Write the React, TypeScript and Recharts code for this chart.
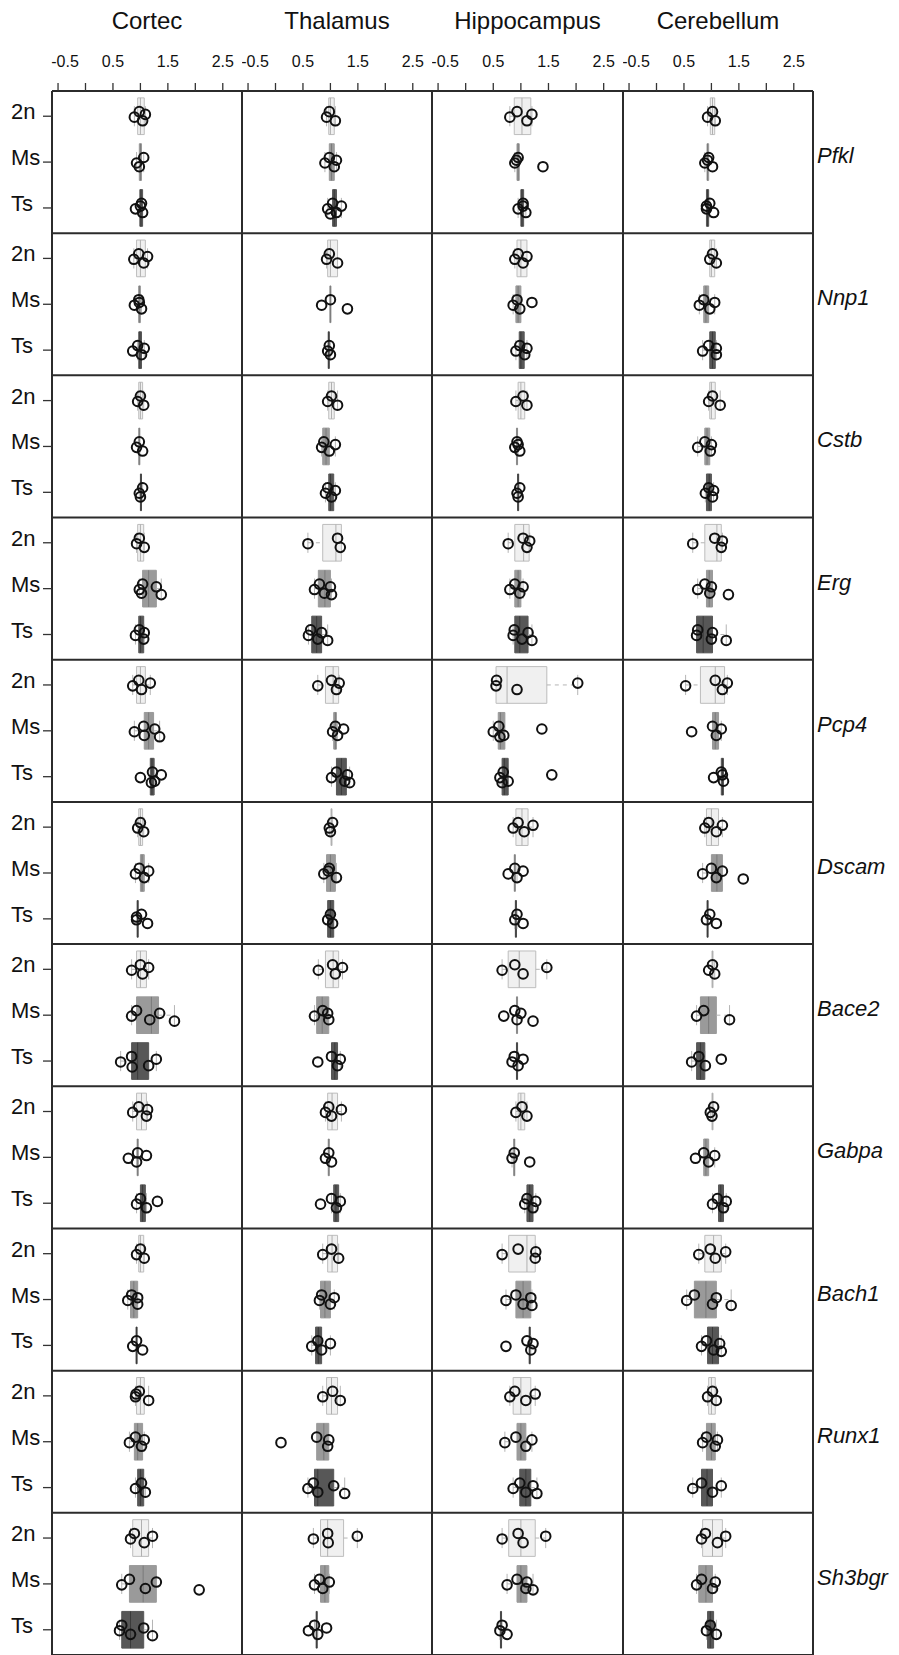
import React from 'react';
import { ScatterChart, Scatter, XAxis, YAxis, ReferenceArea, ReferenceLine } from 'recharts';

const REGIONS = ['Cortec', 'Thalamus', 'Hippocampus', 'Cerebellum'];
const GENES = ['Pfkl', 'Nnp1', 'Cstb', 'Erg', 'Pcp4', 'Dscam', 'Bace2', 'Gabpa', 'Bach1', 'Runx1', 'Sh3bgr'];
const GROUPS = ['2n', 'Ms', 'Ts'];
const X_TICKS = [-0.5, 0, 0.5, 1, 1.5, 2, 2.5];

type Group = { q1: number; med: number; q3: number; pts: number[] };
const g = (q1: number, med: number, q3: number, pts: number[]): Group => ({ q1, med, q3, pts });

// each gene: [Cortec, Thalamus, Hippocampus, Cerebellum], each region: [2n, Ms, Ts]
const PFKL = [
  [g(0.95, 1.0, 1.07, [0.89, 0.98, 1.04, 1.09]), g(0.98, 1.0, 1.02, [0.93, 1.06, 0.98]), g(0.99, 1.01, 1.04, [0.91, 1.02, 1.04, 1.0])],
  [g(0.97, 1.0, 1.07, [0.93, 0.98, 1.09]), g(0.98, 1.02, 1.07, [0.9, 0.98, 1.07, 1.11]), g(1.04, 1.07, 1.11, [0.95, 1.04, 1.11, 1.2, 1.0])],
  [g(0.88, 1.02, 1.18, [0.8, 0.93, 1.11, 1.2]), g(0.93, 0.95, 0.97, [0.89, 0.95, 1.4, 0.92]), g(1.0, 1.02, 1.05, [0.95, 1.04, 1.09, 1.04])],
  [g(0.98, 1.02, 1.06, [0.93, 1.02, 1.07]), g(0.92, 0.93, 0.95, [0.88, 0.95, 1.02, 0.93]), g(0.91, 0.93, 0.95, [0.91, 0.97, 1.04, 0.91])],
];
const NNP1 = [
  [g(0.93, 1.0, 1.09, [0.88, 0.97, 1.06, 1.13]), g(0.97, 0.98, 1.0, [0.89, 0.97, 1.02, 0.98]), g(0.97, 0.99, 1.02, [0.86, 0.95, 1.02, 1.07])],
  [g(0.95, 1.0, 1.13, [0.93, 0.98, 1.13]), g(0.99, 1.0, 1.01, [0.84, 1.0, 1.31]), g(0.96, 0.97, 0.98, [0.95, 0.98, 1.0])],
  [g(0.93, 1.0, 1.11, [0.89, 0.95, 1.04, 1.11]), g(0.91, 0.95, 1.0, [0.86, 0.93, 0.98, 1.2]), g(0.97, 1.0, 1.06, [0.91, 0.98, 1.07, 1.11])],
  [g(0.97, 1.0, 1.06, [0.97, 1.02, 1.09]), g(0.86, 0.9, 0.95, [0.78, 0.86, 0.97, 1.06]), g(0.97, 1.02, 1.07, [0.84, 0.95, 1.09, 1.09])],
];
const CSTB = [
  [g(0.97, 1.0, 1.04, [0.95, 1.0, 1.06]), g(0.97, 0.98, 0.99, [0.93, 0.98, 1.04]), g(1.0, 1.01, 1.02, [0.98, 1.04, 1.0])],
  [g(0.97, 1.02, 1.07, [0.95, 1.02, 1.13]), g(0.86, 0.92, 0.98, [0.84, 0.88, 0.98, 1.09]), g(0.97, 1.0, 1.06, [0.91, 0.95, 1.02, 1.09])],
  [g(0.95, 1.0, 1.07, [0.91, 1.04, 1.11]), g(0.92, 0.93, 0.94, [0.89, 0.93, 0.98, 0.95]), g(0.94, 0.95, 0.96, [0.93, 0.98, 0.95])],
  [g(0.97, 1.0, 1.07, [0.95, 1.02, 1.16]), g(0.88, 0.92, 0.97, [0.75, 0.88, 0.98, 1.0]), g(0.91, 0.96, 1.0, [0.89, 0.95, 1.02, 1.04])],
];
const ERG = [
  [g(0.95, 1.0, 1.06, [0.93, 0.98, 1.07]), g(1.04, 1.15, 1.29, [0.98, 1.04, 1.02, 1.29, 1.38]), g(0.97, 1.0, 1.06, [0.91, 0.98, 1.06, 1.07])],
  [g(0.86, 1.1, 1.2, [0.59, 1.13, 1.18]), g(0.78, 0.9, 1.0, [0.71, 0.8, 0.89, 1.0, 1.02]), g(0.66, 0.75, 0.84, [0.6, 0.64, 0.77, 0.84, 0.95])],
  [g(0.89, 1.05, 1.15, [0.77, 1.04, 1.11, 1.16]), g(0.89, 0.95, 1.0, [0.8, 0.89, 0.98, 1.04]), g(0.89, 0.98, 1.13, [0.86, 0.88, 1.02, 1.13, 1.2])],
  [g(0.88, 1.1, 1.18, [0.66, 1.06, 1.18, 1.2]), g(0.91, 0.96, 1.02, [0.75, 0.88, 0.97, 1.0, 1.31]), g(0.73, 0.85, 1.02, [0.73, 0.75, 1.0, 1.02, 1.27])],
];
const PCP4 = [
  [g(0.93, 1.0, 1.09, [0.86, 0.97, 1.02, 1.18]), g(1.07, 1.15, 1.24, [0.89, 1.06, 1.07, 1.26, 1.35]), g(1.18, 1.21, 1.25, [1.0, 1.22, 1.26, 1.38, 1.2])],
  [g(0.91, 1.05, 1.15, [0.77, 1.02, 1.11, 1.16]), g(1.06, 1.09, 1.11, [1.04, 1.09, 1.13, 1.24]), g(1.11, 1.2, 1.29, [1.02, 1.11, 1.26, 1.31, 1.35])],
  [g(0.55, 0.75, 1.47, [0.55, 0.56, 0.93, 2.03]), g(0.59, 0.63, 0.71, [0.5, 0.6, 0.69, 1.38, 0.62]), g(0.66, 0.7, 0.77, [0.62, 0.68, 0.77, 1.56, 0.66])],
  [g(0.8, 1.07, 1.24, [0.53, 1.07, 1.2, 1.29]), g(1.02, 1.07, 1.13, [0.64, 1.02, 1.09, 1.18]), g(1.18, 1.2, 1.22, [1.04, 1.18, 1.22, 1.2])],
];
const DSCAM = [
  [g(0.97, 1.0, 1.04, [0.95, 1.0, 1.06]), g(1.0, 1.03, 1.07, [0.91, 0.98, 1.07, 1.15]), g(0.94, 0.95, 0.96, [0.93, 1.02, 1.13, 0.93])],
  [g(1.01, 1.02, 1.03, [0.98, 1.04, 1.0]), g(0.93, 1.0, 1.09, [0.88, 0.98, 1.11, 0.96]), g(0.95, 1.0, 1.06, [0.95, 1.0, 1.04])],
  [g(0.91, 1.02, 1.13, [0.86, 0.95, 1.06, 1.22]), g(0.88, 0.89, 0.9, [0.77, 0.89, 0.93, 1.04]), g(0.9, 0.91, 0.92, [0.89, 0.93, 1.04])],
  [g(0.91, 1.0, 1.13, [0.88, 0.95, 1.09, 1.2]), g(1.0, 1.1, 1.2, [0.84, 1.0, 1.09, 1.2, 1.58]), g(0.92, 0.93, 0.94, [0.91, 0.97, 1.09])],
];
const BACE2 = [
  [g(0.93, 1.0, 1.11, [0.84, 1.0, 1.04, 1.15]), g(0.93, 1.2, 1.33, [0.84, 0.93, 1.17, 1.35, 1.62]), g(0.84, 0.95, 1.15, [0.64, 0.84, 1.15, 1.29, 0.85])],
  [g(0.91, 1.05, 1.15, [0.78, 1.04, 1.09, 1.22]), g(0.75, 0.85, 0.97, [0.71, 0.86, 0.97, 0.95]), g(1.02, 1.08, 1.13, [0.77, 1.02, 1.13, 1.18])],
  [g(0.77, 0.97, 1.27, [0.66, 0.89, 1.04, 1.47]), g(0.92, 0.93, 0.94, [0.69, 0.89, 0.93, 1.0, 1.22]), g(0.92, 0.93, 0.94, [0.84, 0.88, 0.95, 1.04])],
  [g(1.01, 1.02, 1.03, [0.95, 1.02, 1.06]), g(0.8, 0.95, 1.09, [0.73, 0.86, 1.33]), g(0.73, 0.8, 0.88, [0.64, 0.77, 0.89, 1.18])],
];
const GABPA = [
  [g(0.93, 1.02, 1.11, [0.86, 0.97, 1.11, 1.13]), g(0.94, 0.95, 0.96, [0.78, 0.95, 0.93, 1.11]), g(1.0, 1.04, 1.09, [0.93, 1.0, 1.11, 1.31])],
  [g(0.95, 1.03, 1.13, [0.91, 0.97, 1.02, 1.2]), g(0.96, 0.97, 0.98, [0.91, 0.97, 1.02]), g(1.06, 1.1, 1.15, [0.82, 1.02, 1.11, 1.18])],
  [g(0.95, 1.0, 1.07, [0.91, 1.02, 1.11]), g(0.87, 0.88, 0.89, [0.84, 0.88, 1.16]), g(1.11, 1.16, 1.22, [1.07, 1.11, 1.22, 1.27])],
  [g(1.01, 1.02, 1.03, [0.98, 1.04, 1.01]), g(0.86, 0.9, 0.95, [0.71, 0.86, 0.95, 1.06]), g(1.13, 1.17, 1.22, [1.02, 1.11, 1.22, 1.27])],
];
const BACH1 = [
  [g(0.97, 1.0, 1.06, [0.93, 1.0, 1.07]), g(0.82, 0.88, 0.95, [0.77, 0.84, 0.95, 0.95]), g(0.92, 0.93, 0.94, [0.86, 0.93, 1.04])],
  [g(0.95, 1.03, 1.13, [0.86, 1.02, 1.15]), g(0.82, 0.9, 1.0, [0.8, 0.84, 1.0, 1.07]), g(0.73, 0.78, 0.84, [0.66, 0.77, 0.84, 1.0])],
  [g(0.78, 1.11, 1.26, [0.66, 0.95, 1.26, 1.27]), g(0.91, 1.04, 1.18, [0.73, 0.91, 1.04, 1.18, 1.2]), g(1.15, 1.16, 1.17, [0.73, 1.11, 1.18, 1.22])],
  [g(0.88, 1.04, 1.18, [0.77, 0.98, 1.07, 1.26]), g(0.69, 0.9, 1.09, [0.55, 0.69, 1.02, 1.09, 1.36]), g(0.93, 1.02, 1.13, [0.82, 0.91, 1.04, 1.15, 1.18])],
];
const RUNX1 = [
  [g(0.93, 1.0, 1.07, [0.91, 0.98, 1.15, 0.92]), g(0.89, 0.95, 1.04, [0.8, 0.91, 1.02, 1.07]), g(0.95, 1.0, 1.06, [0.91, 1.02, 1.09])],
  [g(0.93, 1.02, 1.13, [0.86, 1.04, 1.18]), g(0.75, 0.88, 0.97, [0.1, 0.75, 0.95, 0.97]), g(0.71, 0.77, 1.06, [0.59, 0.69, 0.77, 1.06, 1.26])],
  [g(0.86, 1.0, 1.18, [0.8, 0.89, 1.09, 1.26]), g(0.93, 1.0, 1.09, [0.71, 0.91, 1.09, 1.2]), g(0.98, 1.09, 1.18, [0.86, 0.98, 1.09, 1.22, 1.29])],
  [g(0.95, 1.0, 1.07, [0.93, 1.02, 1.09]), g(0.91, 1.0, 1.07, [0.84, 0.91, 1.07, 1.11]), g(0.82, 0.92, 1.02, [0.66, 0.82, 1.02, 1.18])],
];
const SH3BGR = [
  [g(0.86, 1.02, 1.15, [0.82, 0.89, 1.07, 1.22]), g(0.8, 1.05, 1.29, [0.66, 0.8, 1.09, 1.29, 2.07]), g(0.66, 0.82, 1.06, [0.62, 0.66, 0.82, 1.06, 1.22])],
  [g(0.82, 0.95, 1.24, [0.69, 0.95, 0.96, 1.49]), g(0.82, 0.9, 0.97, [0.71, 0.8, 0.86, 0.98]), g(0.74, 0.75, 0.76, [0.6, 0.71, 0.77, 0.93])],
  [g(0.78, 1.0, 1.26, [0.66, 0.95, 1.04, 1.45]), g(0.93, 1.0, 1.11, [0.75, 0.93, 1.09, 1.11, 1.22]), g(0.63, 0.64, 0.65, [0.62, 0.66, 0.75])],
  [g(0.84, 1.02, 1.2, [0.82, 0.89, 1.11, 1.26]), g(0.77, 0.9, 1.02, [0.73, 0.82, 1.02, 1.07]), g(0.93, 0.98, 1.04, [0.91, 0.98, 1.09])],
];

const DATA = [PFKL, NNP1, CSTB, ERG, PCP4, DSCAM, BACE2, GABPA, BACH1, RUNX1, SH3BGR];

// layout
const X_MIN = -0.61;
const X_MAX = 2.85;
const ROW = 3.1;
const Y_MIN = -0.05;
const Y_MAX = GENES.length * ROW - 0.05;
const COL_LEFT = [52, 242, 432, 623];
const COL_W = [190, 190, 191, 190];
const PLOT_TOP = 91;
const AXIS_H = 40;
const JITTER = [0.02, -0.1, 0.1, -0.04, 0.13, -0.13];

const BOX_FILL = ['#f0f0f0', '#9a9a9a', '#575757'];
const BOX_STROKE = ['#bdbdbd', '#9a9a9a', '#575757'];
const MED_STROKE = ['#b0b0b0', '#7a7a7a', '#3a3a3a'];
const FONT = '"Liberation Sans", Arial, sans-serif';

const groupY = (gi: number, k: number) => gi * ROW + 0.5 + k;

function whiskers(grp: Group) {
  const iqr = grp.q3 - grp.q1;
  const inside = grp.pts.filter(v => v >= grp.q1 - 1.5 * iqr && v <= grp.q3 + 1.5 * iqr);
  const lo = Math.min(grp.q1, ...inside);
  const hi = Math.max(grp.q3, ...inside);
  return [lo, hi];
}

const TopTick = (props: any) => {
  const { x, y, payload } = props;
  const v = payload.value;
  if (Number.isInteger(v)) return null;
  return (
    <text x={x + (v < 0 ? 7 : 0)} y={y - 14} textAnchor="middle" fontSize={16} fill="#111" fontFamily={FONT}>
      {v < 0 ? '-0.5' : String(v)}
    </text>
  );
};

const GROUP_TICKS = GENES.flatMap((_, gi) => GROUPS.map((__, k) => groupY(gi, k)));
const GENE_TICKS = GENES.map((_, gi) => groupY(gi, 1));

const GroupTick = (props: any) => {
  const { y, payload } = props;
  const idx = GROUP_TICKS.findIndex(t => Math.abs(t - payload.value) < 1e-6);
  return (
    <text x={11} y={y + 3} fontSize={22} fill="#111" fontFamily={FONT}>
      {GROUPS[idx % 3]}
    </text>
  );
};

const GeneTick = (props: any) => {
  const { x, y, payload } = props;
  const idx = GENE_TICKS.findIndex(t => Math.abs(t - payload.value) < 1e-6);
  return (
    <text x={x} y={y + 1} fontSize={22} fontStyle="italic" fill="#111" fontFamily={FONT}>
      {GENES[idx]}
    </text>
  );
};

function RegionColumn({ col }: { col: number }) {
  const first = col === 0;
  const last = col === REGIONS.length - 1;
  const leftW = first ? 52 : 0;
  const rightW = last ? 899 - COL_LEFT[col] - COL_W[col] : 0;
  const width = leftW + COL_W[col] + rightW;

  const points: { x: number; y: number }[] = [];
  const boxes: React.ReactNode[] = [];
  DATA.forEach((gene, gi) => {
    gene[col].forEach((grp, k) => {
      const c = groupY(gi, k);
      grp.pts.forEach((v, j) => points.push({ x: v, y: c + JITTER[j % JITTER.length] }));
      const [lo, hi] = whiskers(grp);
      const key = `${gi}-${k}`;
      if (lo < grp.q1) {
        boxes.push(<ReferenceLine key={`wl${key}`} segment={[{ x: lo, y: c }, { x: grp.q1, y: c }]} stroke="#b5b5b5" strokeDasharray="4 4" />);
        boxes.push(<ReferenceLine key={`cl${key}`} segment={[{ x: lo, y: c - 0.22 }, { x: lo, y: c + 0.22 }]} stroke="#b5b5b5" />);
      }
      if (hi > grp.q3) {
        boxes.push(<ReferenceLine key={`wh${key}`} segment={[{ x: grp.q3, y: c }, { x: hi, y: c }]} stroke="#b5b5b5" strokeDasharray="4 4" />);
        boxes.push(<ReferenceLine key={`ch${key}`} segment={[{ x: hi, y: c - 0.22 }, { x: hi, y: c + 0.22 }]} stroke="#b5b5b5" />);
      }
      boxes.push(
        <ReferenceArea key={`b${key}`} x1={grp.q1} x2={grp.q3} y1={c - 0.4} y2={c + 0.4}
          fill={BOX_FILL[k]} fillOpacity={1} stroke={BOX_STROKE[k]} strokeWidth={1} />
      );
      boxes.push(<ReferenceLine key={`m${key}`} segment={[{ x: grp.med, y: c - 0.4 }, { x: grp.med, y: c + 0.4 }]} stroke={MED_STROKE[k]} strokeWidth={1} />);
    });
  });

  return (
    <div style={{ position: 'absolute', left: COL_LEFT[col] - leftW, top: 0 }}>
      <ScatterChart width={width} height={1655} margin={{ top: PLOT_TOP - AXIS_H, right: 0, bottom: 0, left: 0 }}>
        <XAxis type="number" dataKey="x" orientation="top" domain={[X_MIN, X_MAX]} ticks={X_TICKS}
          allowDataOverflow interval={0} height={AXIS_H} axisLine={false} tickSize={8}
          tickLine={{ stroke: '#333', strokeWidth: 1.3 }} tick={<TopTick />} />
        <YAxis type="number" dataKey="y" domain={[Y_MIN, Y_MAX]} reversed allowDataOverflow
          hide={!first} width={leftW} ticks={GROUP_TICKS} interval={0} axisLine={false} tickSize={9}
          tickLine={{ stroke: '#333', strokeWidth: 1.3 }} tick={<GroupTick />} />
        {last && (
          <YAxis yAxisId="genes" orientation="right" type="number" domain={[Y_MIN, Y_MAX]} reversed
            allowDataOverflow width={rightW} ticks={GENE_TICKS} interval={0} axisLine={false}
            tickLine={false} tickSize={0} tickMargin={4} tick={<GeneTick />} />
        )}
        {boxes}
        {GENES.map((_, gi) => (
          <ReferenceLine key={`row${gi}`} y={gi * ROW + Y_MIN} stroke="#2b2b2b" strokeWidth={2} />
        ))}
        <ReferenceLine y={Y_MAX} stroke="#2b2b2b" strokeWidth={2} />
        <ReferenceLine x={X_MIN} stroke="#2b2b2b" strokeWidth={2} />
        <ReferenceLine x={X_MAX} stroke="#2b2b2b" strokeWidth={2} />
        <Scatter data={points} isAnimationActive={false}
          shape={(p: any) => <circle cx={p.cx} cy={p.cy} r={4.8} fill="none" stroke="#111" strokeWidth={2} />} />
      </ScatterChart>
    </div>
  );
}

export default function App() {
  return (
    <div style={{ position: 'absolute', left: 0, top: 0, width: 899, height: 1655, background: '#fff', overflow: 'hidden', fontFamily: FONT }}>
      {REGIONS.map((r, i) => (
        <div key={r} style={{ position: 'absolute', left: COL_LEFT[i], top: 9, width: COL_W[i], textAlign: 'center', fontSize: 24, lineHeight: '24px', color: '#111' }}>
          {r}
        </div>
      ))}
      {REGIONS.map((r, i) => <RegionColumn key={r} col={i} />)}
    </div>
  );
}
